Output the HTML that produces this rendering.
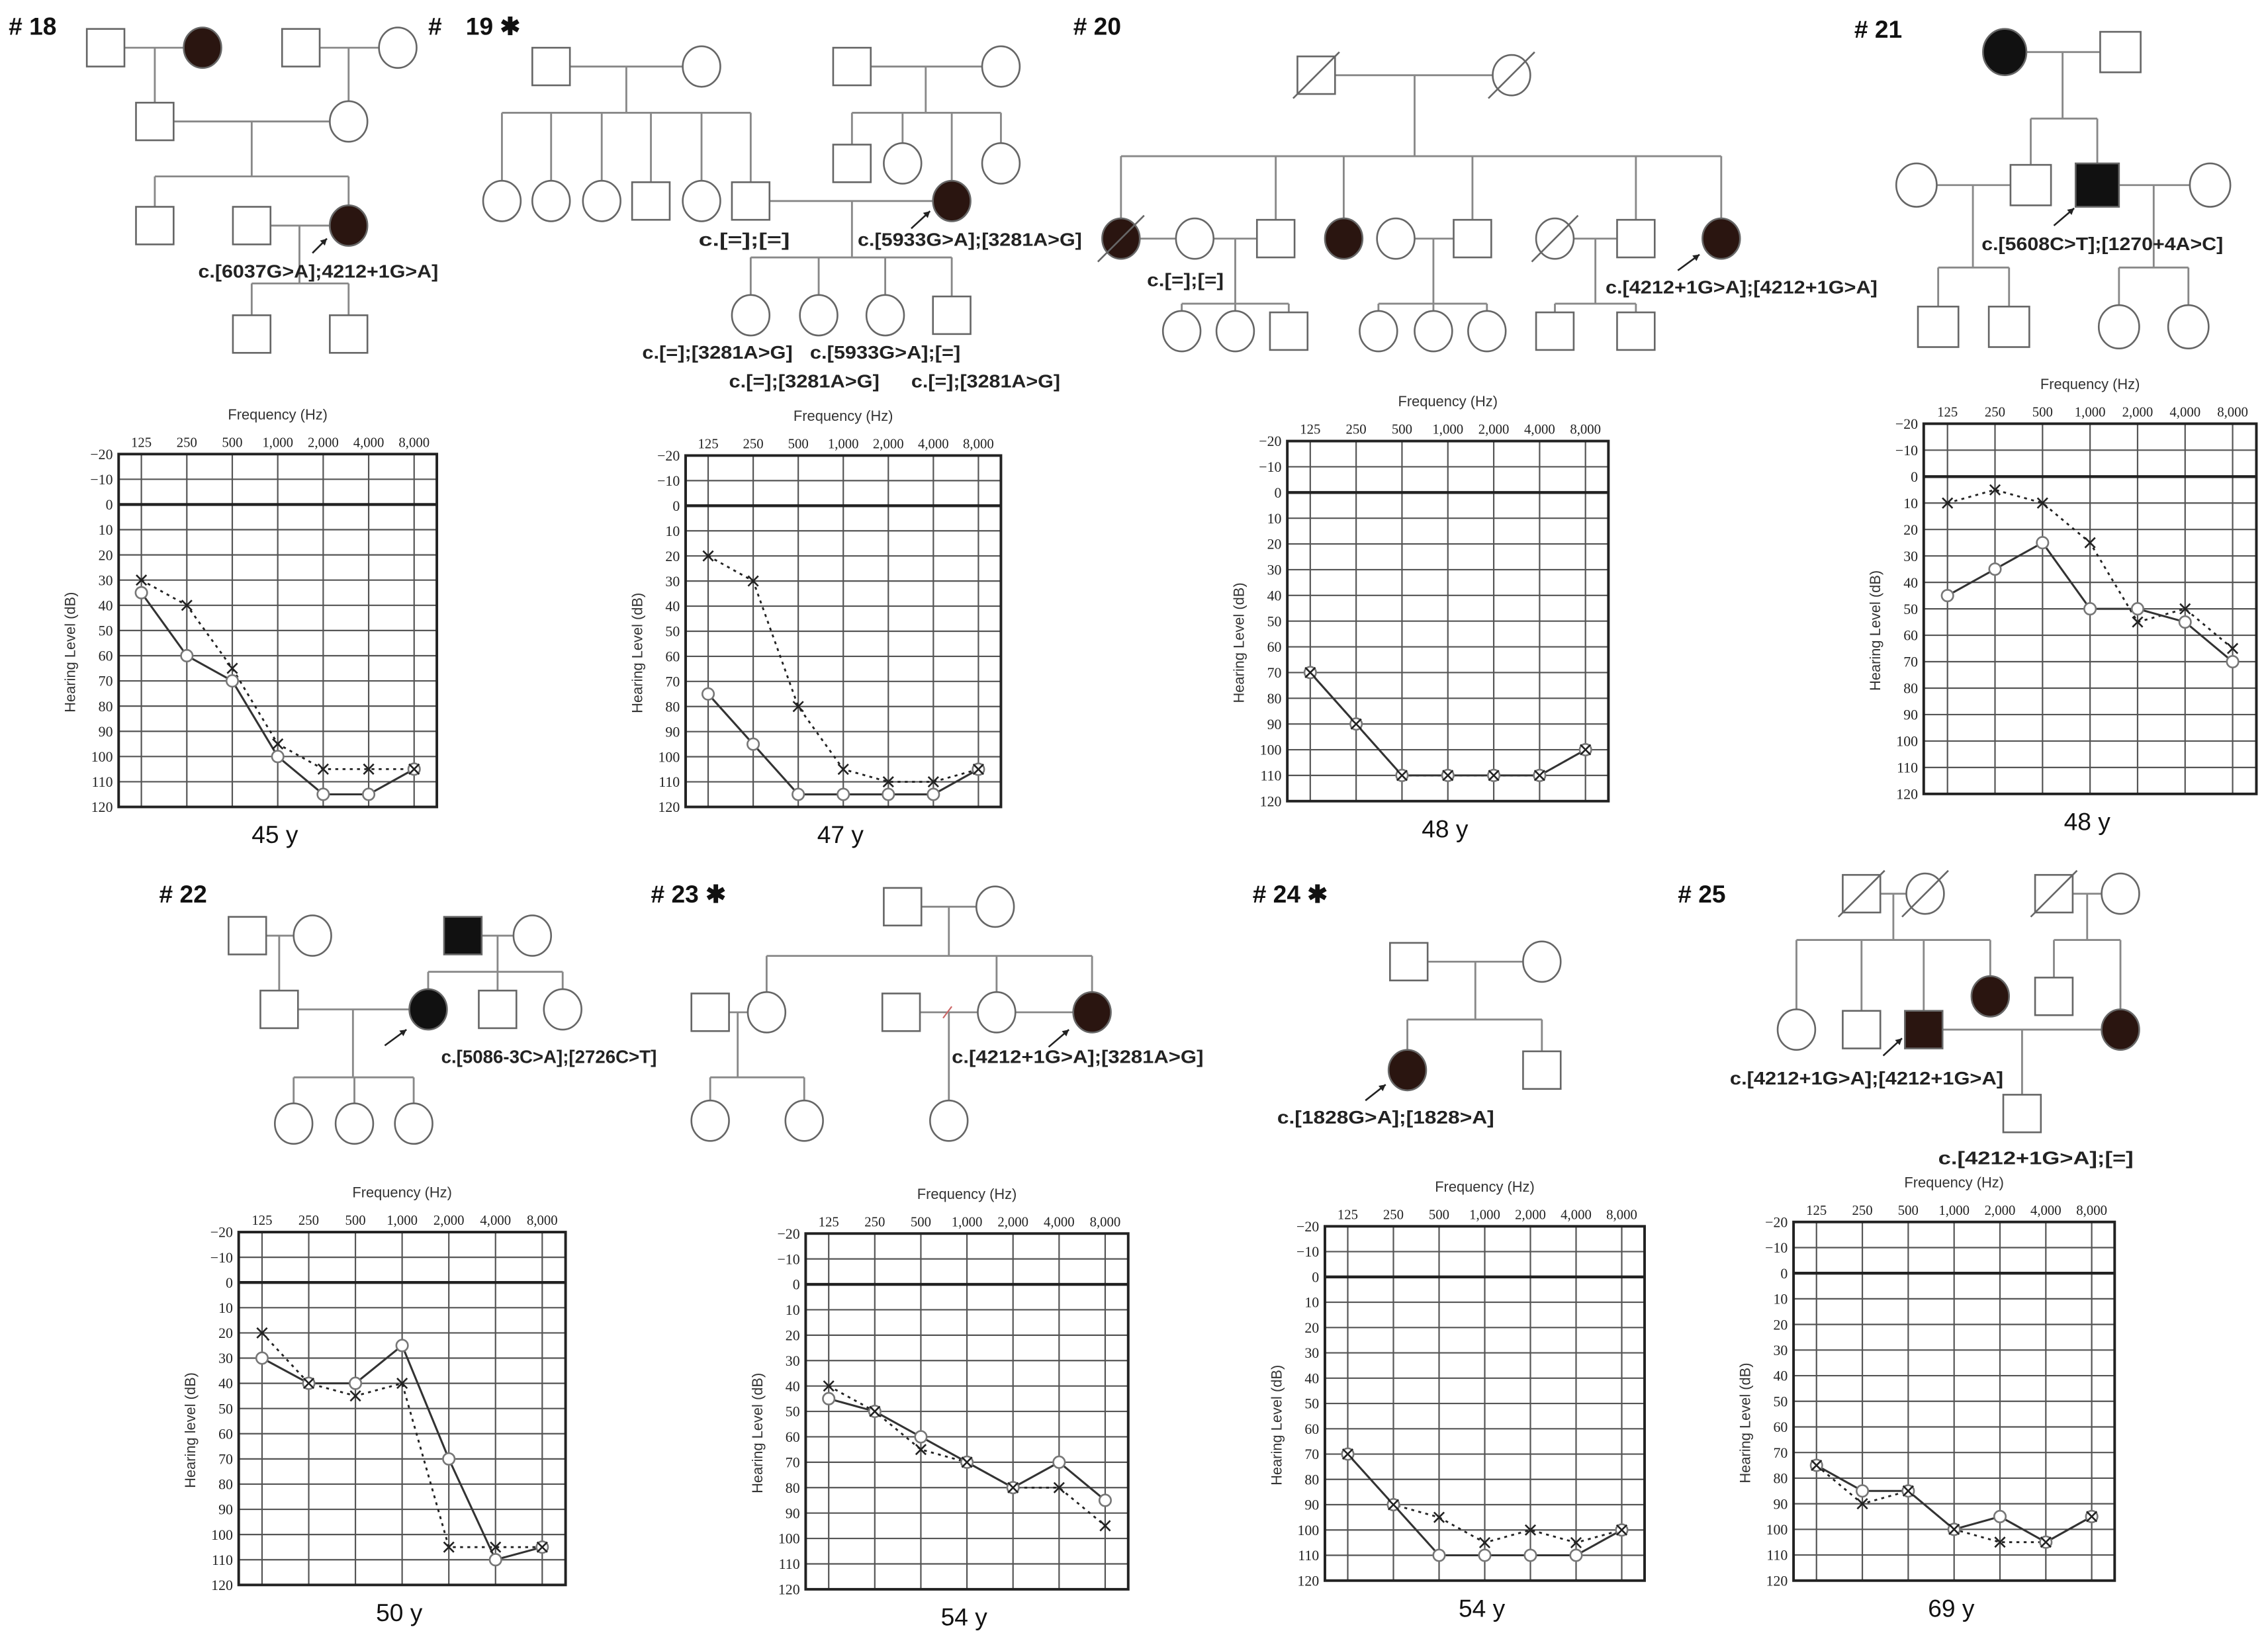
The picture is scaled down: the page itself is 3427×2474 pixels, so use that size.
<!DOCTYPE html>
<html><head><meta charset="utf-8"><style>
html,body{margin:0;padding:0;background:#fff;}
svg{display:block;}
text{font-family:"Liberation Sans",sans-serif;}
</style></head><body>
<svg id="fig" width="3427" height="2474" viewBox="0 0 1568 1132" xmlns="http://www.w3.org/2000/svg">
<rect width="1568" height="1132" fill="#fff"/>
<g id="ped"></g>
<g id="aud"></g>
</svg>
<script>
var freqLabels=["125","250","500","1,000","2,000","4,000","8,000"];
var yTicks=[-20,-10,0,10,20,30,40,50,60,70,80,90,100,110,120];
var o18=[35,60,70,100,115,115,105], x18=[30,40,65,95,105,105,105];
var o19=[75,95,115,115,115,115,105], x19=[20,30,80,105,110,110,105];
var o20=[70,90,110,110,110,110,100], x20=[70,90,110,110,110,110,100];
var o21=[45,35,25,50,50,55,70], x21=[10,5,10,25,55,50,65];
var o22=[30,40,40,25,70,110,105], x22=[20,40,45,40,105,105,105];
var o23=[45,50,60,70,80,70,85], x23=[40,50,65,70,80,80,95];
var o24=[70,90,110,110,110,110,100], x24=[70,90,95,105,100,105,100];
var o25=[75,85,85,100,95,105,95], x25=[75,90,85,100,105,105,95];
var ages=["45 y","47 y","48 y","48 y","50 y","54 y","54 y","69 y"];

var NS="http://www.w3.org/2000/svg";
function mk(parent,tag,attrs,txt){var e=document.createElementNS(NS,tag);for(var k in attrs)e.setAttribute(k,attrs[k]);if(txt!=null)e.textContent=txt;parent.appendChild(e);return e;}

var aud=document.getElementById('aud');
function audiogram(id,L,T,R,B,oV,xV,age,ylab){
  var g=mk(aud,'g',{});
  
  
  var w=R-L,h=B-T,step=w/7;
  function X(i){return L+step/2+i*step;}
  function Y(v){return T+(v+20)/140*h;}
  var t=mk(g,'text',{x:(L+R)/2,y:T-24,'font-size':10,'text-anchor':'middle',fill:'#333'},'Frequency (Hz)');
  
  
  for(var i=0;i<7;i++){
    var fl=mk(g,'text',{x:X(i),y:T-5,'font-size':9.5,'text-anchor':'middle',fill:'#222',style:'font-family:"Liberation Serif",serif'},freqLabels[i]);
    
    
    mk(g,'line',{x1:X(i),y1:T,x2:X(i),y2:B,stroke:'#555','stroke-width':1});
  }
  for(var j=0;j<yTicks.length;j++){
    var v=yTicks[j];
    mk(g,'line',{x1:L,y1:Y(v),x2:R,y2:Y(v),stroke:v===0?'#222':'#555','stroke-width':v===0?2:1});
    var yl=mk(g,'text',{x:L-4,y:Y(v)+3.5,'font-size':10,'text-anchor':'end',fill:'#222',style:'font-family:"Liberation Serif",serif'},(v<0?'\u2212'+(-v):String(v)));
    
    
  }
  var bx=mk(g,'rect',{x:L,y:T,width:w,height:h,fill:'none',stroke:'#222','stroke-width':1.8});
  
  
  var yt=mk(g,'text',{x:0,y:0,'font-size':10,'text-anchor':'middle',fill:'#333',transform:'translate('+(L-30)+','+((T+B)/2+15)+') rotate(-90)'},ylab);
  
  
  var ps='',pd='';
  for(var i=0;i<7;i++){ps+=(i?'L':'M')+X(i)+','+Y(oV[i]);pd+=(i?'L':'M')+X(i)+','+Y(xV[i]);}
  var ld=mk(g,'path',{d:pd,fill:'none',stroke:'#222','stroke-width':1.3,'stroke-dasharray':'2,3'});
  
  
  var ls=mk(g,'path',{d:ps,fill:'none',stroke:'#333','stroke-width':1.4});
  
  
  for(var i=0;i<7;i++){
    var c=mk(g,'circle',{cx:X(i),cy:Y(oV[i]),r:4,fill:'#fff',stroke:'#777','stroke-width':1.2});
    
    
    var xx=X(i),yy=Y(xV[i]);
    var m=mk(g,'path',{d:'M'+(xx-3.5)+','+(yy-3.5)+'L'+(xx+3.5)+','+(yy+3.5)+'M'+(xx+3.5)+','+(yy-3.5)+'L'+(xx-3.5)+','+(yy+3.5),stroke:'#222','stroke-width':1.2});
    
    
  }
  var a=mk(g,'text',{x:(L+R)/2-2,y:B+25,'font-size':17,'text-anchor':'middle',fill:'#111'},age);
  
  
}
audiogram(18,82,314,302,558,o18,x18,ages[0],'Hearing Level (dB)');
audiogram(19,474,315,692,558,o19,x19,ages[1],'Hearing Level (dB)');
audiogram(20,890,305,1112,554,o20,x20,ages[2],'Hearing Level (dB)');
audiogram(21,1330,293,1560,549,o21,x21,ages[3],'Hearing Level (dB)');
audiogram(22,165,852,391,1096,o22,x22,ages[4],'Hearing level (dB)');
audiogram(23,557,853,780,1099,o23,x23,ages[5],'Hearing Level (dB)');
audiogram(24,916,848,1137,1093,o24,x24,ages[6],'Hearing Level (dB)');
audiogram(25,1240,845,1462,1093,o25,x25,ages[7],'Hearing Level (dB)');

/* pedigrees */
var ped=document.getElementById('ped');
var S='#666',F='#2a1510';
function sq(x,y,f,sl,s){s=s||13;var r=mk(ped,'rect',{x:x-s,y:y-s,width:2*s,height:2*s,fill:f?(f===2?'#111':F):'#fff',stroke:S,'stroke-width':1.2});
  
  
  if(sl)mk(ped,'line',{x1:x-s-3,y1:y+s+3,x2:x+s+3,y2:y-s-3,stroke:S,'stroke-width':1.2});}
function ci(x,y,f,sl,s){s=s||13;var r=mk(ped,'ellipse',{cx:x,cy:y,rx:s,ry:s+1,fill:f?(f===2?'#111':F):'#fff',stroke:S,'stroke-width':1.2});
  
  
  if(sl)mk(ped,'line',{x1:x-s-3,y1:y+s+3,x2:x+s+3,y2:y-s-3,stroke:S,'stroke-width':1.2});}
function ln(x1,y1,x2,y2){mk(ped,'line',{x1:x1,y1:y1,x2:x2,y2:y2,stroke:'#888','stroke-width':1.3});}
function title(x,y,s){var t=mk(ped,'text',{x:x,y:y,'font-size':17,'font-weight':'bold',fill:'#111'},s);
  
  }
function tx(x1,x2,y,s){var t=mk(ped,'text',{x:x1,y:y,'font-size':12.5,'font-weight':'bold',fill:'#222',textLength:(x2-x1),lengthAdjust:'spacingAndGlyphs'},s);
  
  }
function ar(x1,y1,x2,y2){mk(ped,'line',{x1:x1,y1:y1,x2:x2,y2:y2,stroke:'#222','stroke-width':1.2});
  var a=Math.atan2(y2-y1,x2-x1),h=5;
  mk(ped,'path',{d:'M'+x2+','+y2+'L'+(x2-h*Math.cos(a-0.5))+','+(y2-h*Math.sin(a-0.5))+'L'+(x2-h*Math.cos(a+0.5))+','+(y2-h*Math.sin(a+0.5))+'Z',fill:'#222'});}

/* #18 */
title(6,24,'# 18');
ln(73,33,140,33);ln(208,33,275,33);ln(107,33,107,84);ln(241,33,241,84);ln(107,84,241,84);
ln(174,84,174,122);ln(107,122,241,122);ln(107,122,107,156);ln(241,122,241,156);ln(174,156,241,156);
ln(207,156,207,196);ln(174,196,241,196);ln(174,196,174,231);ln(241,196,241,231);
sq(73,33);ci(140,33,1);sq(208,33);ci(275,33);sq(107,84);ci(241,84);
sq(107,156);sq(174,156);ci(241,156,1);sq(174,231);sq(241,231);
ar(216,175,226,165);tx(137,303,192,'c.[6037G>A];4212+1G>A]');

/* #19 */
title(296,24,'#');title(322,24,'19 \u2731');
ln(381,46,485,46);ln(433,46,433,78);ln(347,78,519,78);
[347,381,416,450,485,519].forEach(function(x){ln(x,78,x,139);});
ln(589,46,692,46);ln(640,46,640,78);ln(589,78,692,78);
[589,624,658,692].forEach(function(x){ln(x,78,x,x===658?139:113);});
ln(519,139,658,139);ln(589,139,589,178);ln(519,178,658,178);
[519,566,612,658].forEach(function(x){ln(x,178,x,218);});
sq(381,46);ci(485,46);sq(589,46);ci(692,46);
ci(347,139);ci(381,139);ci(416,139);sq(450,139);ci(485,139);sq(519,139);
sq(589,113);ci(624,113);ci(692,113);ci(658,139,1);
ci(519,218);ci(566,218);ci(612,218);sq(658,218);
ar(630,158,643,146);
tx(483,546,170,'c.[=];[=]');tx(593,748,170,'c.[5933G>A];[3281A>G]');
tx(444,548,248,'c.[=];[3281A>G]');tx(560,664,248,'c.[5933G>A];[=]');
tx(504,608,268,'c.[=];[3281A>G]');tx(630,733,268,'c.[=];[3281A>G]');

/* #20 */
title(742,24,'# 20');
ln(910,52,1045,52);ln(978,52,978,108);ln(775,108,1190,108);
[775,882,929,1018,1131,1190].forEach(function(x){ln(x,108,x,165);});
ln(775,165,882,165);ln(965,165,1018,165);ln(1075,165,1131,165);
ln(854,165,854,210);ln(817,210,891,210);[817,854,891].forEach(function(x){ln(x,210,x,229);});
ln(991,165,991,210);ln(953,210,1028,210);[953,991,1028].forEach(function(x){ln(x,210,x,229);});
ln(1103,165,1103,210);ln(1075,210,1131,210);[1075,1131].forEach(function(x){ln(x,210,x,229);});
sq(910,52,0,1);ci(1045,52,0,1);
ci(775,165,1,1);ci(826,165);sq(882,165);ci(929,165,1);ci(965,165);sq(1018,165);ci(1075,165,0,1);sq(1131,165);ci(1190,165,1);
ci(817,229);ci(854,229);sq(891,229);ci(953,229);ci(991,229);ci(1028,229);sq(1075,229);sq(1131,229);
ar(1160,187,1175,176);
tx(793,846,198,'c.[=];[=]');tx(1110,1298,203,'c.[4212+1G>A];[4212+1G>A]');

/* #21 */
title(1282,26,'# 21');
ln(1386,36,1466,36);ln(1426,36,1426,82);ln(1404,82,1450,82);ln(1404,82,1404,128);ln(1450,82,1450,128);
ln(1325,128,1404,128);ln(1450,128,1528,128);
ln(1364,128,1364,185);ln(1340,185,1389,185);ln(1340,185,1340,226);ln(1389,185,1389,226);
ln(1489,128,1489,185);ln(1465,185,1513,185);ln(1465,185,1465,226);ln(1513,185,1513,226);
ci(1386,36,2,0,15);sq(1466,36,0,0,14);
ci(1325,128,0,0,14);sq(1404,128,0,0,14);sq(1450,128,2,0,15);ci(1528,128,0,0,14);
sq(1340,226,0,0,14);sq(1389,226,0,0,14);ci(1465,226,0,0,14);ci(1513,226,0,0,14);
ar(1420,156,1434,144);tx(1370,1537,173,'c.[5608C>T];[1270+4A>C]');

/* #22 */
title(110,624,'# 22');
ln(171,647,216,647);ln(193,647,193,698);ln(320,647,368,647);ln(344,647,344,672);ln(296,672,389,672);
[296,344,389].forEach(function(x){ln(x,672,x,698);});
ln(193,698,296,698);ln(244,698,244,745);ln(203,745,286,745);[203,245,286].forEach(function(x){ln(x,745,x,777);});
sq(171,647);ci(216,647);sq(320,647,2);ci(368,647);
sq(193,698);ci(296,698,2);sq(344,698);ci(389,698);
ci(203,777);ci(245,777);ci(286,777);
ar(266,723,281,712);tx(305,454,735,'c.[5086-3C>A];[2726C>T]');

/* #23 */
title(450,624,'# 23 \u2731');
ln(624,627,688,627);ln(656,627,656,661);ln(530,661,755,661);
[530,689,755].forEach(function(x){ln(x,661,x,700);});
ln(491,700,530,700);ln(623,700,689,700);ln(689,700,755,700);
ln(510,700,510,745);ln(491,745,556,745);ln(491,745,491,775);ln(556,745,556,775);ln(656,700,656,775);
mk(ped,'line',{x1:652,y1:704,x2:658,y2:696,stroke:'#c66','stroke-width':1});
sq(624,627);ci(688,627);
sq(491,700);ci(530,700);sq(623,700);ci(689,700);ci(755,700,1);
ci(491,775);ci(556,775);ci(656,775);
ar(725,724,739,712);tx(658,832,735,'c.[4212+1G>A];[3281A>G]');

/* #24 */
title(866,624,'# 24 \u2731');
ln(974,665,1066,665);ln(1020,665,1020,705);ln(973,705,1066,705);ln(973,705,973,740);ln(1066,705,1066,740);
sq(974,665);ci(1066,665);ci(973,740,1);sq(1066,740);
ar(944,761,958,750);tx(883,1033,777,'c.[1828G>A];[1828>A]');

/* #25 */
title(1160,624,'# 25');
ln(1287,618,1331,618);ln(1309,618,1309,650);ln(1242,650,1376,650);
[1242,1287,1330].forEach(function(x){ln(x,650,x,712);});ln(1376,650,1376,689);
ln(1420,618,1466,618);ln(1443,618,1443,650);ln(1420,650,1466,650);ln(1420,650,1420,689);ln(1466,650,1466,712);
ln(1330,712,1466,712);ln(1398,712,1398,770);
sq(1287,618,0,1);ci(1331,618,0,1);sq(1420,618,0,1);ci(1466,618);
ci(1242,712);sq(1287,712);sq(1330,712,1);ci(1376,689,1);sq(1420,689);ci(1466,712,1);
sq(1398,770);
ar(1302,730,1315,718);tx(1196,1385,750,'c.[4212+1G>A];[4212+1G>A]');tx(1340,1475,805,'c.[4212+1G>A];[=]');
</script>
</body></html>
